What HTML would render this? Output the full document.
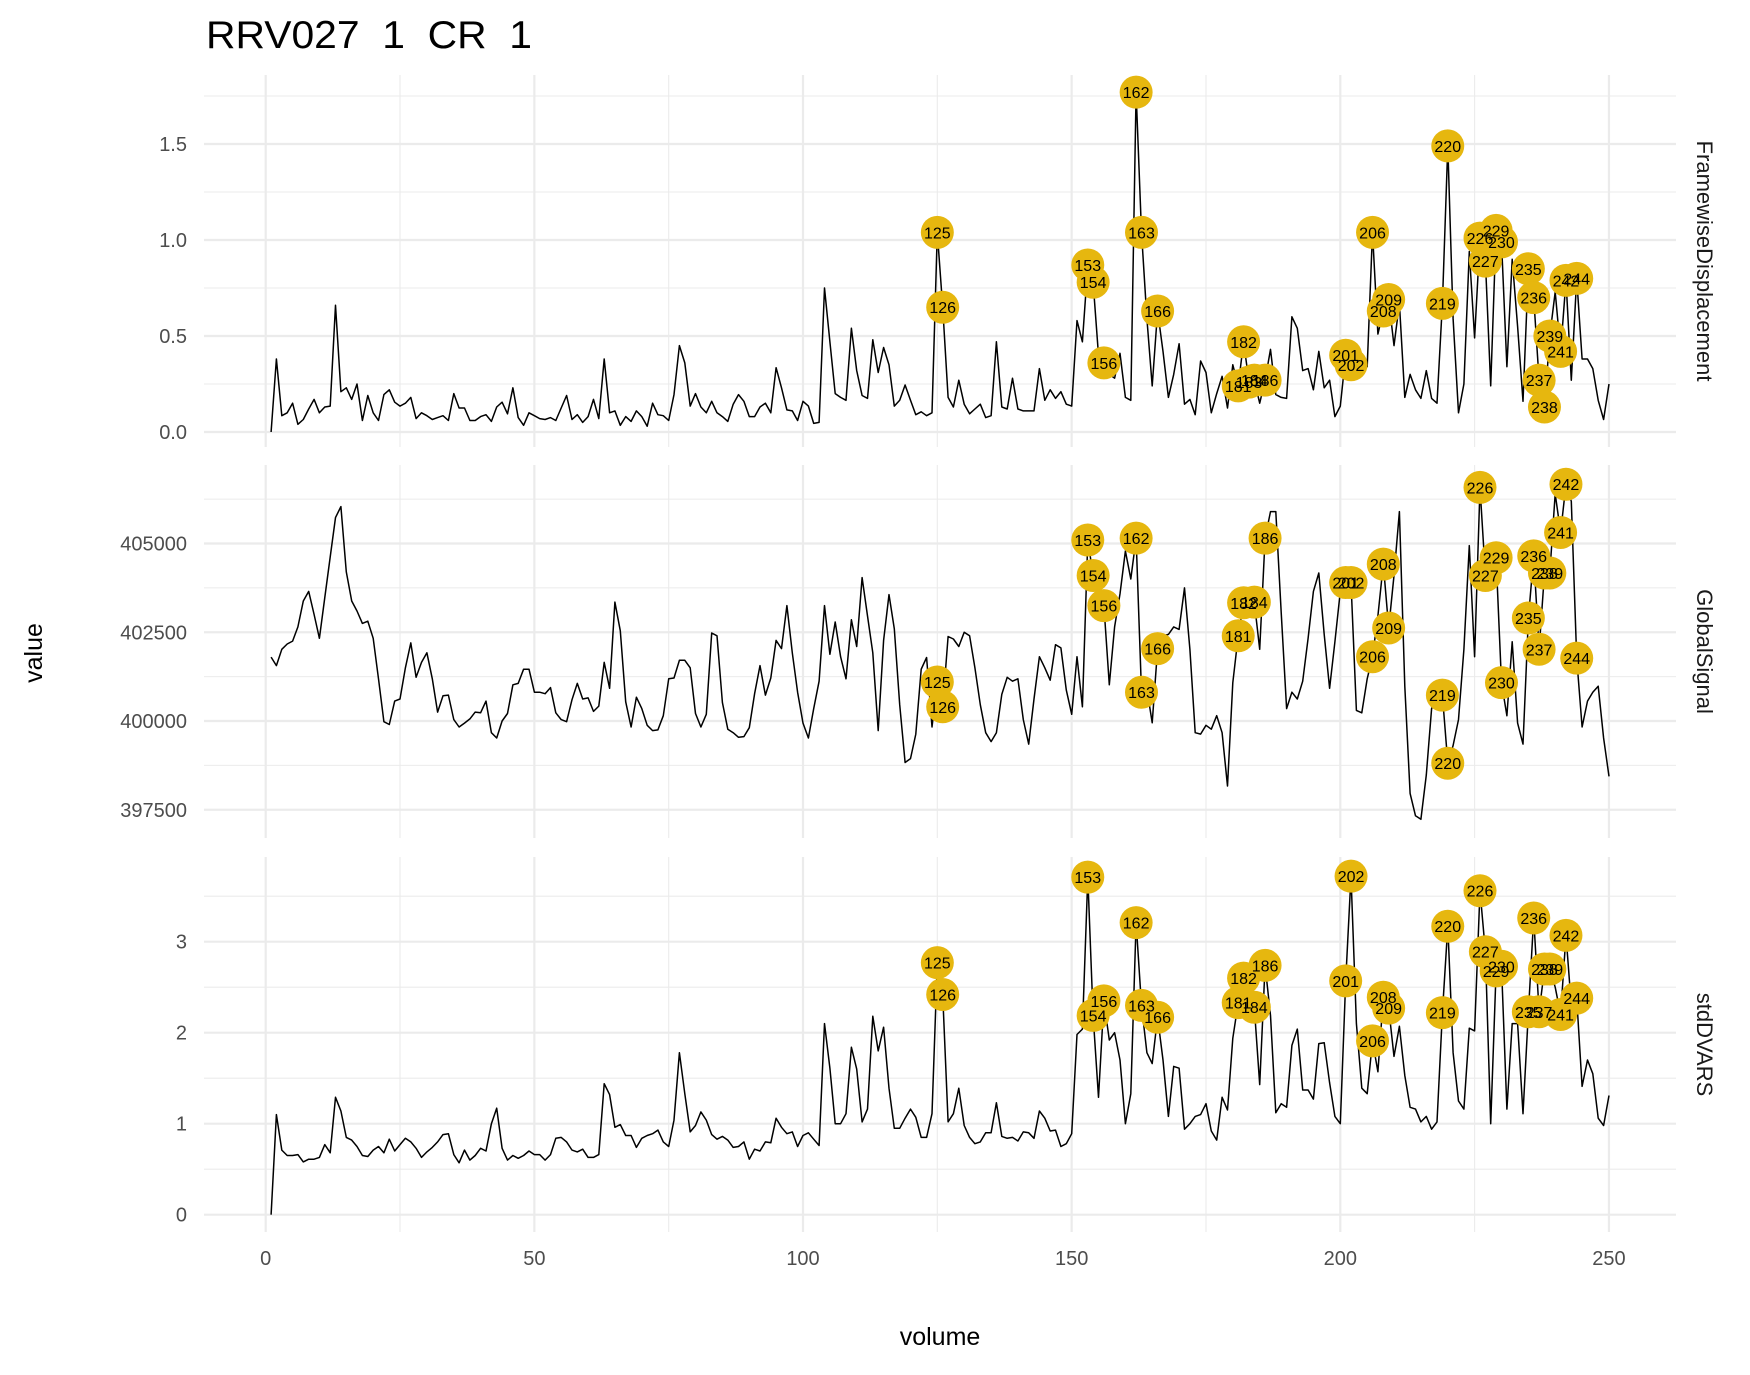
<!DOCTYPE html>
<html><head><meta charset="utf-8"><style>
html,body{margin:0;padding:0;background:#fff;}
svg{display:block;font-family:"Liberation Sans",Arial,sans-serif;}
</style></head><body>
<svg id="chart" width="1750" height="1375" viewBox="0 0 1750 1375" xmlns="http://www.w3.org/2000/svg">
<text x="206" y="48" font-size="39" fill="#000" textLength="326" lengthAdjust="spacingAndGlyphs" xml:space="preserve">RRV027  1  CR  1</text>
<text transform="translate(42,653) rotate(-90)" text-anchor="middle" font-size="25" fill="#000">value</text>
<text x="940" y="1345" text-anchor="middle" font-size="25" fill="#000">volume</text>
<g id="panels"></g>
</svg>
<script>
const volumes = Array.from({length:250},(_,i)=>i+1);
const fdValues = [0,0.38,0.085,0.1,0.15,0.04,0.065,0.12,0.17,0.1,0.13,0.135,0.66,0.21,0.23,0.17,0.25,0.06,0.19,0.1,0.06,0.195,0.22,0.155,0.135,0.15,0.18,0.07,0.1,0.085,0.065,0.075,0.085,0.06,0.2,0.125,0.125,0.06,0.06,0.08,0.09,0.055,0.13,0.155,0.095,0.23,0.075,0.035,0.1,0.085,
0.07,0.065,0.075,0.06,0.125,0.19,0.065,0.09,0.05,0.08,0.17,0.07,0.38,0.1,0.11,0.035,0.08,0.055,0.11,0.08,0.03,0.15,0.09,0.085,0.06,0.195,0.45,0.36,0.135,0.2,0.13,0.1,0.16,0.1,0.08,0.055,0.145,0.195,0.16,0.08,0.08,0.13,0.15,0.1,0.335,0.23,0.115,0.11,0.06,0.16,
0.135,0.045,0.05,0.75,0.47,0.2,0.18,0.165,0.54,0.32,0.19,0.175,0.48,0.31,0.44,0.35,0.135,0.165,0.245,0.165,0.09,0.105,0.085,0.1,1.04,0.65,0.18,0.13,0.27,0.145,0.095,0.12,0.145,0.075,0.085,0.47,0.13,0.12,0.28,0.12,0.11,0.11,0.11,0.33,0.165,0.22,0.175,0.21,0.145,0.135,
0.58,0.47,0.87,0.78,0.4,0.36,0.3,0.28,0.41,0.18,0.165,1.77,1.04,0.59,0.24,0.63,0.42,0.18,0.3,0.46,0.145,0.17,0.09,0.37,0.31,0.1,0.2,0.29,0.125,0.35,0.24,0.47,0.26,0.27,0.15,0.27,0.43,0.195,0.18,0.175,0.6,0.54,0.32,0.33,0.22,0.42,0.23,0.27,0.08,0.135,
0.4,0.35,0.33,0.34,0.34,1.04,0.51,0.63,0.69,0.45,0.67,0.18,0.3,0.22,0.175,0.32,0.175,0.15,0.67,1.49,0.59,0.1,0.25,0.94,0.49,1.01,0.89,0.24,1.05,0.99,0.34,0.9,0.55,0.16,0.85,0.7,0.27,0.13,0.5,0.73,0.42,0.79,0.27,0.8,0.38,0.38,0.33,0.165,0.065,0.25];
const gsValues = [401800,401560,402020,402170,402250,402650,403380,403650,403000,402330,403480,404620,405730,406040,404200,403380,403100,402750,402810,402330,401190,399980,399900,400560,400620,401500,402200,401230,401650,401920,401190,400250,400710,400730,400040,399830,399940,400060,400250,400230,400560,399670,399520,400000,400210,401020,401060,401460,401460,400810,
400810,400770,400940,400230,400040,399980,400600,401060,400620,400650,400270,400420,401650,400920,403350,402540,400540,399830,400670,400350,399880,399730,399750,400150,401190,401210,401710,401710,401500,400210,399830,400190,402480,402400,400520,399770,399670,399540,399560,399810,400770,401560,400730,401210,402270,402040,403250,401920,400810,399940,
399520,400350,401120,403250,401880,402790,401810,401190,402850,402100,404040,402960,401920,399730,402270,403560,402600,400460,398830,398940,399630,401460,401790,399830,401100,400400,402380,402310,402100,402500,402400,401500,400460,399670,399420,399670,400750,401230,401120,401190,400040,399350,400620,401810,401500,401150,402150,402060,400870,400190,
401810,400400,405100,404100,403400,403250,401020,402650,403580,404790,404000,405150,400810,400900,399950,402040,402400,402440,402650,402580,403750,402020,399670,399630,399880,399770,400150,399670,398170,401080,402400,403330,403300,403350,402020,405150,405900,405900,403060,400350,400810,400620,401120,402330,403650,404170,402440,400920,402230,403650,
403900,403900,400300,400230,401190,401810,402960,404420,402620,404100,405900,400980,397960,397330,397230,398480,400350,400700,400730,398810,399310,400040,402020,404940,401810,406580,404100,404000,404600,401080,400150,402230,399940,399350,402900,404650,402020,404170,404170,406400,405310,406670,406190,401770,399830,400560,400810,400980,399520,398440];
const dvarsValues = [0,1.1,0.71,0.65,0.65,0.66,0.58,0.61,0.61,0.63,0.77,0.68,1.29,1.14,0.85,0.82,0.75,0.65,0.64,0.71,0.75,0.68,0.83,0.7,0.77,0.84,0.8,0.73,0.63,0.69,0.74,0.8,0.88,0.89,0.66,0.57,0.71,0.6,0.65,0.73,0.7,1.0,1.17,0.73,0.6,0.65,0.62,0.65,0.7,0.66,
0.66,0.6,0.66,0.84,0.85,0.8,0.71,0.69,0.72,0.63,0.63,0.66,1.44,1.32,0.96,0.99,0.87,0.87,0.74,0.84,0.87,0.89,0.93,0.8,0.75,1.04,1.78,1.33,0.91,0.98,1.13,1.04,0.88,0.83,0.86,0.82,0.74,0.75,0.8,0.61,0.72,0.7,0.8,0.79,1.06,0.96,0.89,0.91,0.75,0.87,
0.9,0.83,0.76,2.1,1.61,1.0,1.0,1.11,1.84,1.6,1.02,1.16,2.18,1.8,2.06,1.39,0.95,0.95,1.06,1.16,1.07,0.85,0.85,1.11,2.77,2.42,1.02,1.11,1.39,0.98,0.85,0.78,0.8,0.9,0.9,1.23,0.86,0.84,0.85,0.81,0.91,0.9,0.84,1.14,1.06,0.92,0.93,0.75,0.78,0.89,
1.98,2.04,3.71,2.19,1.29,2.35,1.92,2.0,1.7,1.0,1.33,3.21,2.3,1.78,1.66,2.17,1.7,1.08,1.63,1.61,0.94,1.0,1.08,1.1,1.22,0.92,0.82,1.29,1.15,1.94,2.33,2.6,2.33,2.28,1.43,2.74,2.19,1.12,1.22,1.18,1.86,2.04,1.37,1.37,1.27,1.88,1.89,1.45,1.08,1.0,
2.57,3.72,2.1,1.39,1.33,1.91,1.57,2.39,2.27,1.74,2.07,1.53,1.18,1.16,1.02,1.08,0.94,1.02,2.22,3.17,1.78,1.25,1.16,2.05,2.02,3.56,2.89,1.0,2.68,2.73,1.16,2.1,2.1,1.11,2.23,3.26,2.23,2.7,2.7,2.5,2.2,3.07,2.3,2.38,1.41,1.7,1.55,1.06,0.98,1.31];
const labeledCommon = [125,126,153,154,156,162,163,166,181,182,184,186,201,202,206,208,209,219,220,226,227,229,230,235,236,237,238,239,241,242,244];
const fdLabeled = labeledCommon.concat([183]);
const xTicks = [0,50,100,150,200,250];
const fdTicks = [0,0.5,1.0,1.5];
const gsTicks = [397500,400000,402500,405000];
const dvarsTicks = [0,1,2,3];

const NS='http://www.w3.org/2000/svg';
const X0=265.7, PX=5.373, LEFT=204, RIGHT=1676;
const xScale = v => X0 + PX*v;
function mk(tag, attrs, parent){const e=document.createElementNS(NS,tag);for(const k in attrs)e.setAttribute(k,attrs[k]);parent.appendChild(e);return e;}
const root=document.getElementById('panels');

const panels=[
 {key:'fd',name:'FramewiseDisplacement',top:75,bot:447,vals:fdValues,ticks:fdTicks,minor:0.25,y:v=>432-192*v,labeled:fdLabeled,fmt:v=>v.toFixed(1)},
 {key:'gs',name:'GlobalSignal',top:465,bot:838,vals:gsValues,ticks:gsTicks,minor:1250,y:v=>721-0.0355*(v-400000),labeled:labeledCommon,fmt:v=>String(v)},
 {key:'dvars',name:'stdDVARS',top:857,bot:1232,vals:dvarsValues,ticks:dvarsTicks,minor:0.5,y:v=>1214.7-91*v,labeled:labeledCommon,fmt:v=>String(v)}
];

panels.forEach((p,pi)=>{
 const g=mk('g',{},root);
 
 
 const t0=p.ticks[0], step=p.ticks[1]-p.ticks[0];
 for(let v=t0-step; v<=p.ticks[p.ticks.length-1]+step; v+=p.minor){
   const yy=p.y(v); if(yy<p.top||yy>p.bot) continue;
   const isMajor=p.ticks.some(t=>Math.abs(t-v)<1e-6);
   const l=mk('line',{x1:LEFT,x2:RIGHT,y1:yy,y2:yy,stroke:'#EBEBEB','stroke-width':isMajor?2.2:1.1},g);
   
   
 }
 for(let v=-25; v<=275; v+=25){
   const xx=xScale(v); if(xx<LEFT||xx>RIGHT) continue;
   const isMajor=v%50===0;
   const l=mk('line',{x1:xx,x2:xx,y1:p.top,y2:p.bot,stroke:'#EBEBEB','stroke-width':isMajor?2.2:1.1},g);
   
   
 }
 p.ticks.forEach(t=>{
   const tx=mk('text',{x:187,y:p.y(t)+7,'text-anchor':'end','font-size':20,fill:'#4D4D4D'},g);
   tx.textContent=p.fmt(t);
   
   
 });
 const pts=p.vals.map((v,i)=>xScale(volumes[i]).toFixed(1)+','+p.y(v).toFixed(1)).join(' ');
 const line=mk('polyline',{points:pts,fill:'none',stroke:'#000','stroke-width':1.5,'stroke-linejoin':'round'},g);
 
 
 p.labeled.forEach(vol=>{
   const cx=xScale(vol), cy=p.y(p.vals[vol-1]);
   const c=mk('circle',{cx:cx,cy:cy,r:16.5,fill:'#E6B70F'},g);
   
   
 });
 p.labeled.forEach(vol=>{
   const cx=xScale(vol), cy=p.y(p.vals[vol-1]);
   const tx=mk('text',{x:cx,y:cy+6,'text-anchor':'middle','font-size':16,fill:'#000'},g);
   tx.textContent=String(vol);
   
   
 });
 const cy=(p.top+p.bot)/2;
 const st=mk('text',{transform:'translate(1697,'+cy+') rotate(90)','text-anchor':'middle','font-size':22,fill:'#1A1A1A'},g);
 st.textContent=p.name;
 
 
});
xTicks.forEach(t=>{
 const tx=mk('text',{x:xScale(t),y:1265,'text-anchor':'middle','font-size':20,fill:'#4D4D4D'},root);
 tx.textContent=String(t);
 
 
});
</script>
</body></html>
